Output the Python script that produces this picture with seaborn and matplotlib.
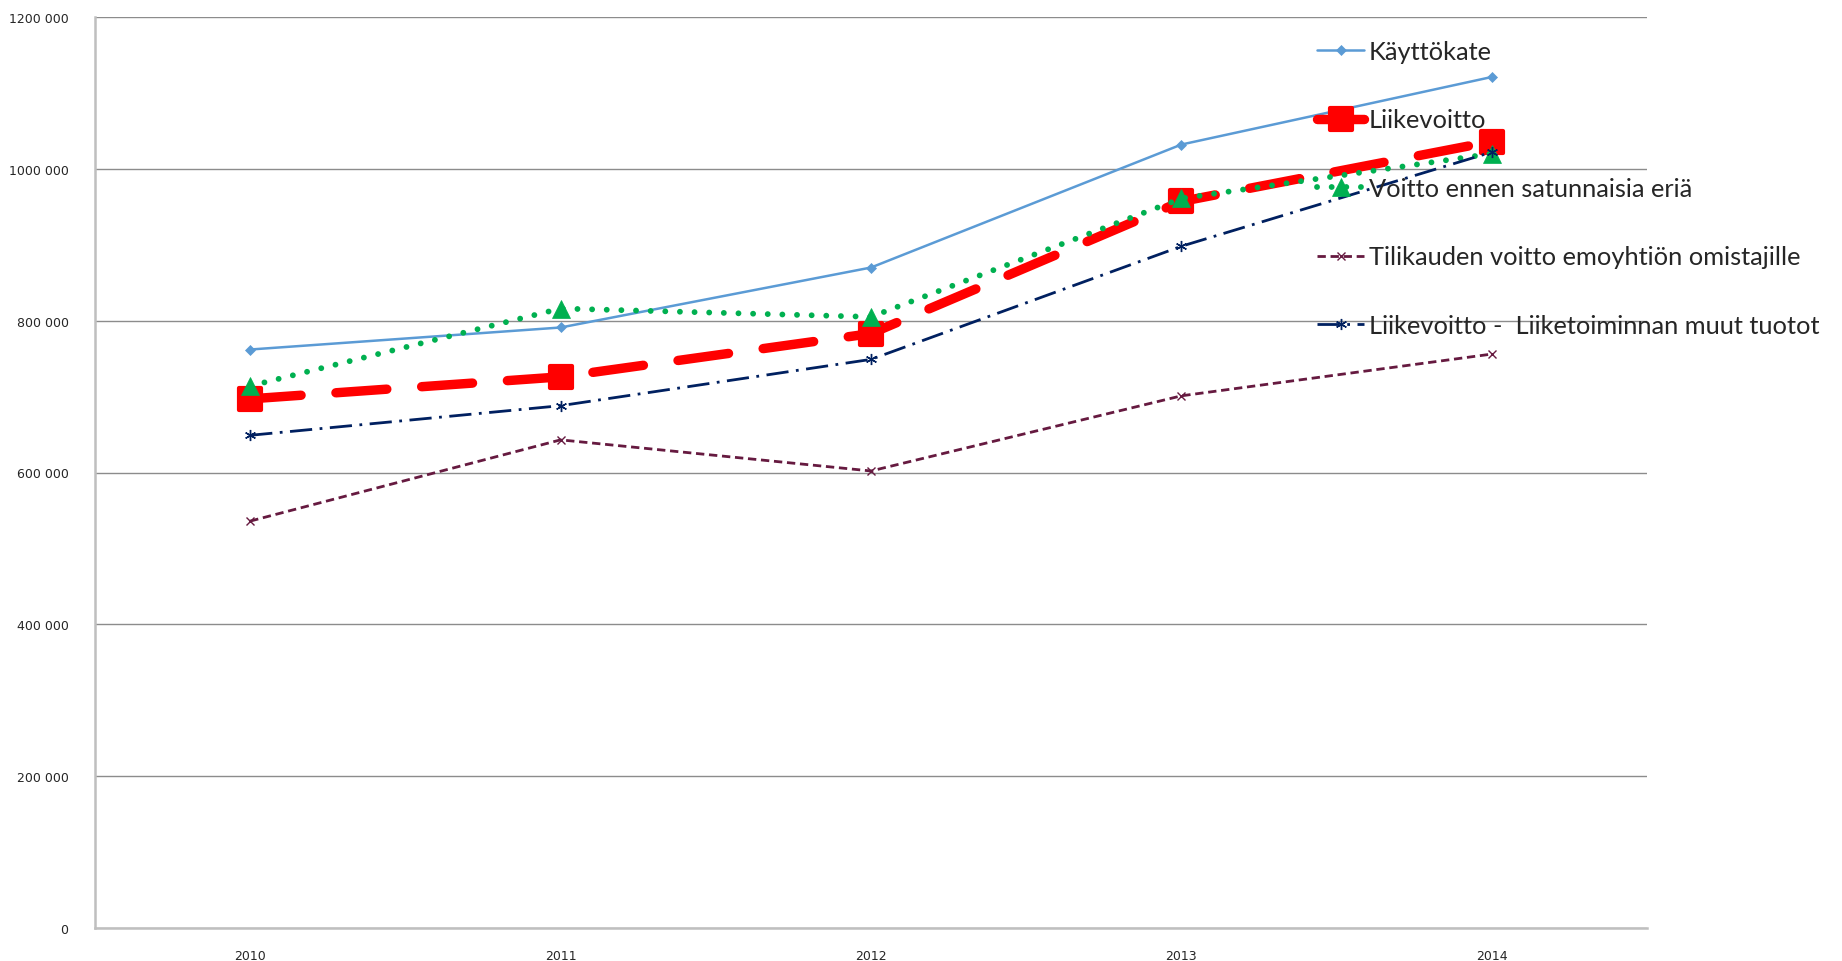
import matplotlib
matplotlib.use('Agg')
import matplotlib.pyplot as plt
from matplotlib.markers import MarkerStyle
import seaborn as sns
import numpy as np

sns.set_style('white')
plt.rcParams['font.family'] = ['DejaVu Sans']

# --- data ---
years = ['2010', '2011', '2012', '2013', '2014']
kayttokate = [762000, 791000, 870000, 1032000, 1121000]
liikevoitto = [697000, 726000, 783000, 957000, 1036000]
voitto_ennen = [714000, 816000, 805000, 961000, 1020000]
tilikauden_voitto = [536000, 643000, 602000, 701000, 756000]
liikevoitto_muut = [649000, 688000, 749000, 898000, 1022000]

labels = ['Käyttökate', 'Liikevoitto', 'Voitto ennen satunnaisia eriä',
          'Tilikauden voitto emoyhtiön omistajille',
          'Liikevoitto -  Liiketoiminnan muut tuotot']
y_ticks = [0, 200000, 400000, 600000, 800000, 1000000, 1200000]
y_ticklabels = ['0', '200 000', '400 000', '600 000', '800 000', '1000 000', '1200 000']

x = np.arange(len(years))

fig = plt.figure(figsize=(18.42, 9.62), dpi=100)
ax = fig.add_axes([95 / 1842, 1 - 929 / 962, (1647 - 95) / 1842, (929 - 18) / 962])

styles = [
    dict(color='#5B9BD5', linewidth=1.8, linestyle='-', marker='D', markersize=5,
         markeredgecolor='#5B9BD5', markeredgewidth=0.5),
    dict(color='#FF0000', linewidth=6.8, linestyle=(0, (5.4, 3.7)),
         dash_capstyle='round', marker=MarkerStyle('s', joinstyle='round'),
         markersize=15.5, markeredgecolor='#FF0000', markeredgewidth=3),
    dict(color='#00B050', linewidth=4.2, linestyle=(0, (0.01, 2.5)),
         dash_capstyle='round', marker='^', markersize=13.5,
         markeredgecolor='#00B050', markeredgewidth=0.5),
    dict(color='#661A40', linewidth=2.0, linestyle=(0, (3, 1.7)),
         marker='x', markersize=6, markeredgecolor='#661A40', markeredgewidth=1.0),
    dict(color='#002060', linewidth=2.0, linestyle=(0, (8, 2.7, 1, 2.7)),
         marker=(6, 2, 0), markersize=8, markeredgecolor='#002060', markeredgewidth=1.0),
]
series = [kayttokate, liikevoitto, voitto_ennen, tilikauden_voitto, liikevoitto_muut]

for vals, lab, st in zip(series, labels, styles):
    sns.lineplot(x=x, y=vals, ax=ax, label=lab, errorbar=None, sort=False, **st)

ax.set_xlim(-0.5, len(years) - 0.5)
ax.set_ylim(0, 1200000)
ax.set_yticks(y_ticks)
ax.set_yticklabels(y_ticklabels, fontsize=9)
ax.set_xticks(x)
ax.set_xticklabels(years, fontsize=9)
ax.set_xticks(np.arange(-0.5, len(years)), minor=True)
ax.tick_params(axis='x', which='major', length=0, pad=15)
ax.tick_params(axis='x', which='minor', length=5, width=1, color='#BFBFBF', direction='out')
ax.tick_params(axis='y', which='major', length=5, width=1, color='#BFBFBF', direction='out', pad=14)

ax.yaxis.grid(True, color='#8C8C8C', linewidth=1)
ax.xaxis.grid(False)
ax.set_axisbelow(True)
for side in ['top', 'right']:
    ax.spines[side].set_visible(False)
for side in ['left', 'bottom']:
    ax.spines[side].set_color('#BFBFBF')
    ax.spines[side].set_linewidth(1.8)
ax.set_xlabel('')
ax.set_ylabel('')

ax.legend(loc='upper left', bbox_to_anchor=(1317 / 1842, 1 - 41 / 962),
          bbox_transform=fig.transFigure, frameon=False, borderpad=0,
          borderaxespad=0, handlelength=1.85, handletextpad=0.2,
          labelspacing=1.79, prop={'family': 'Lato', 'size': 18.3})

fig.savefig('out.png', dpi=100)
